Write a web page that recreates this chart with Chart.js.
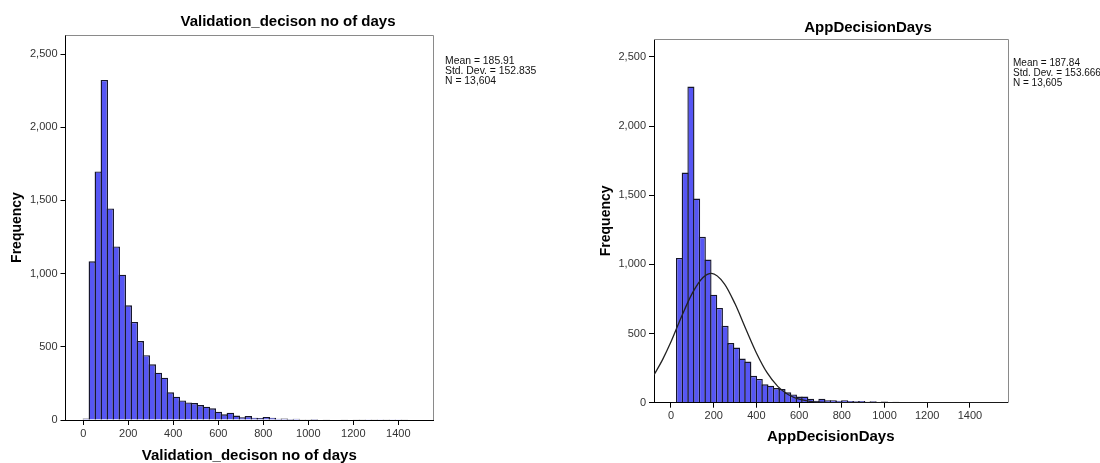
<!DOCTYPE html>
<html>
<head>
<meta charset="utf-8">
<script src="https://cdn.jsdelivr.net/npm/chart.js@4.4.1/dist/chart.umd.min.js"></script>
<style>
    html, body { margin: 0; padding: 0; background: #fff; }
    #wrap { position: relative; width: 1100px; height: 463px; }
    .box { position: absolute; top: 0; width: 550px; height: 463px; }
</style>
</head>
<body>
<div id="wrap">
    <div class="box" style="left:0"><canvas id="leftChart"></canvas></div>
    <div class="box" style="left:550px"><canvas id="rightChart"></canvas></div>
</div>
<script>
// histogram data

const binWidth = 400 / 15;
const xTickValues = [0, 200, 400, 600, 800, 1000, 1200, 1400];
const yTickValues = [0, 500, 1000, 1500, 2000, 2500];

// Validation_decison no of days (bins from 0, width binWidth)
const validationCounts = [
    10, 1084, 1698, 2323, 1445, 1186, 993, 784, 670, 539,
    443, 380, 323, 289, 189, 159, 134, 120, 116, 102,
    91, 80, 57, 39, 50, 30, 18, 27, 16, 14,
    20, 16, 9, 11, 7, 9, 5, 5, 6, 4,
    5, 3, 4, 2, 3, 2, 2, 1, 2, 1,
    2, 1, 1, 2
];
const validationStats = ['Mean = 185.91', 'Std. Dev. = 152.835', 'N = 13,604'];

// AppDecisionDays
const appDecisionCounts = [
    5, 1047, 1664, 2286, 1476, 1200, 1035, 781, 685, 556,
    431, 399, 319, 298, 194, 172, 133, 123, 106, 99,
    75, 60, 44, 44, 29, 15, 29, 17, 17, 15,
    17, 12, 10, 12, 7, 10, 5, 8, 5, 6,
    4, 5, 3, 3, 2, 2, 2, 1, 2, 1,
    1, 1, 1, 1
];
const appDecisionStats = ['Mean = 187.84', 'Std. Dev. = 153.666', 'N = 13,605'];

// normal curve drawn over AppDecisionDays
const curveDays = [-80, -40, 0, 50, 100, 150, 190, 250, 300, 350, 400, 450, 500, 550, 600, 650, 700, 800, 1000, 1580];
const curveFreq = [200, 310, 440, 625, 792, 905, 935, 860, 715, 535, 360, 217, 118, 57, 25, 10, 4, 0, 0, 0];

Chart.defaults.font.family = '"Liberation Sans", Arial, sans-serif';

// title, stats text and the grey top/right frame
const histNotes = {
    id: 'histNotes',
    beforeDatasetsDraw(chart, args, opts) {
        const a = chart.chartArea;
        const ctx = chart.ctx;
        const t = Math.round(a.top) + 0.5;
        const r = Math.round(a.right) + 0.5;
        ctx.save();
        ctx.strokeStyle = '#8a8a8a';
        ctx.lineWidth = 1;
        ctx.beginPath();
        ctx.moveTo(a.left, t);
        ctx.lineTo(r, t);
        ctx.lineTo(r, a.bottom);
        ctx.stroke();
        ctx.restore();
    },
    afterDraw(chart, args, opts) {
        const ctx = chart.ctx;
        ctx.save();
        ctx.fillStyle = '#000';
        ctx.textAlign = 'center';
        ctx.textBaseline = 'middle';
        ctx.font = 'bold 15px "Liberation Sans", Arial, sans-serif';
        ctx.fillText(opts.title, opts.titleX, opts.titleY);
        ctx.textAlign = 'left';
        ctx.fillStyle = '#111';
        ctx.font = opts.statsFont + 'px "Liberation Sans", Arial, sans-serif';
        opts.stats.forEach((line, i) => {
            ctx.fillText(line, opts.statsX, opts.statsY + i * 10);
        });
        ctx.restore();
    }
};

function makeConfig(o) {
    const datasets = [{
        type: 'bar',
        data: o.counts.map((c, i) => ({ x: (i + 0.5) * binWidth, y: c })),
        backgroundColor: '#5656f4',
        borderColor: '#15152a',
        borderWidth: 1.4,
        inflateAmount: 0,
        barPercentage: o.barPct,
        categoryPercentage: 1,
        order: 1
    }];
    if (o.curve) {
        datasets.push({
            type: 'line',
            data: o.curve.days.map((d, i) => ({ x: d, y: o.curve.freq[i] })),
            borderColor: '#222',
            borderWidth: 1.3,
            pointRadius: 0,
            fill: false,
            tension: 0.4,
            cubicInterpolationMode: 'monotone',
            order: 0
        });
    }
    return {
        type: 'bar',
        data: { datasets: datasets },
        options: {
            responsive: true,
            maintainAspectRatio: false,
            animation: false,
            layout: { padding: { top: o.top, right: o.padRight, bottom: 0, left: 0 } },
            plugins: {
                legend: { display: false },
                tooltip: { enabled: false },
                histNotes: {
                    title: o.title, titleX: o.titleX, titleY: o.titleY,
                    stats: o.stats, statsX: o.statsX, statsY: o.statsY, statsFont: o.statsFont
                }
            },
            scales: {
                x: {
                    type: 'linear',
                    min: o.xMin,
                    max: o.xMax,
                    offset: false,
                    afterBuildTicks: s => { s.ticks = xTickValues.map(v => ({ value: v })); },
                    afterFit: s => { s.height = o.xAxisHeight; },
                    grid: { offset: false, drawOnChartArea: false, drawTicks: true, tickLength: 5, tickColor: '#000' },
                    border: { color: '#000', width: 1 },
                    ticks: {
                        color: '#333', font: { size: 11 }, padding: 2,
                        maxRotation: 0, autoSkip: false,
                        callback: v => String(v)
                    },
                    title: {
                        display: true, text: o.title, color: '#000',
                        font: { size: 15, weight: 'bold', lineHeight: 1 },
                        padding: { top: 0, bottom: o.xTitlePad }
                    }
                },
                y: {
                    min: 0,
                    max: 2630,
                    afterBuildTicks: s => { s.ticks = yTickValues.map(v => ({ value: v })); },
                    afterFit: s => { s.width = o.yAxisWidth; },
                    grid: { drawOnChartArea: false, drawTicks: true, tickLength: 5, tickColor: '#000' },
                    border: { color: '#000', width: 1 },
                    ticks: {
                        color: '#333', font: { size: 11 }, padding: 3,
                        callback: v => v.toLocaleString('en-US')
                    },
                    title: {
                        display: true, text: 'Frequency', color: '#000',
                        font: { size: 14, weight: 'bold', lineHeight: 1 },
                        padding: { top: o.yTitlePad, bottom: 0 }
                    }
                }
            }
        },
        plugins: [histNotes]
    };
}

new Chart(document.getElementById('leftChart'), makeConfig({
    counts: validationCounts,
    title: 'Validation_decison no of days',
    titleX: 288, titleY: 22,
    stats: validationStats, statsX: 445, statsY: 61, statsFont: 10.4,
    top: 35, padRight: 117, yAxisWidth: 65.5, xAxisHeight: 43,
    xMin: -79, xMax: 1554, barPct: 1.233,
    xTitlePad: 0, yTitlePad: 10
}));

new Chart(document.getElementById('rightChart'), makeConfig({
    counts: appDecisionCounts,
    curve: { days: curveDays, freq: curveFreq },
    title: 'AppDecisionDays',
    titleX: 318, titleY: 28,
    stats: appDecisionStats, statsX: 463, statsY: 63, statsFont: 10,
    top: 39, padRight: 92.5, yAxisWidth: 104, xAxisHeight: 60.3,
    xMin: -79.6, xMax: 1576, barPct: 1.246,
    xTitlePad: 18.5, yTitlePad: 49
}));
</script>
</body>
</html>
